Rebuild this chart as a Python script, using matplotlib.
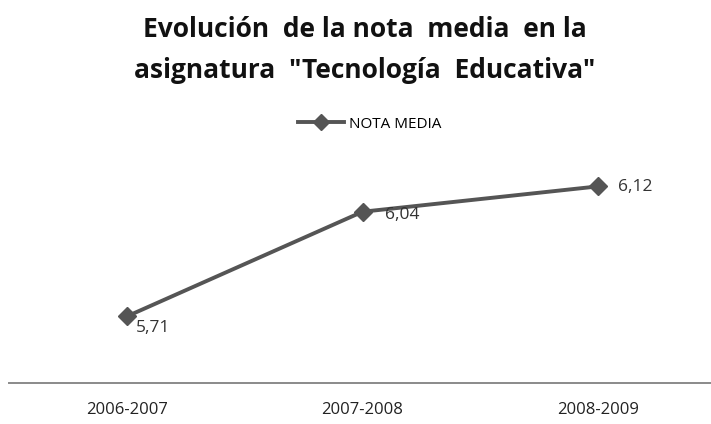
import matplotlib
matplotlib.use("Agg")
import matplotlib.pyplot as plt
from matplotlib.lines import Line2D

years = ["2006-2007", "2007-2008", "2008-2009"]
nota_media = [5.71, 6.04, 6.12]
labels = ["5,71", "6,04", "6,12"]

plt.rcParams['font.family'] = ['Open Sans', 'DejaVu Sans']

fig = plt.figure(figsize=(7.11, 4.24), dpi=100)
ax = fig.add_axes([9 / 711, 1 - 383 / 424, 707 / 711, (383 - 161) / 424])

x = list(range(len(years)))
ax.plot(x, nota_media, color="#555555", lw=2.8, marker="D", ms=9.5,
        markerfacecolor="#555555", markeredgecolor="#555555", zorder=3)

# data labels sit to the right of each point
offsets = [(6.5, -8), (16, -2.5), (14, -0.5)]
for xi, yi, lab, off in zip(x, nota_media, labels, offsets):
    ax.annotate(lab, (xi, yi), xytext=off, textcoords="offset points",
                ha="left", va="center", fontsize=12.5, color="#333333")

ax.set_xlim(-0.5, 2.5)
ax.set_ylim(5.5, 6.2)
ax.set_xticks(x)
ax.set_xticklabels(years, fontsize=12, color="#222222")
ax.tick_params(axis="x", length=0, pad=14)
ax.set_yticks([])
for side in ["top", "right", "left"]:
    ax.spines[side].set_visible(False)
ax.spines["bottom"].set_color("#8a8a8a")
ax.spines["bottom"].set_linewidth(1.4)

fig.text(0.513, 1 - 50 / 424, 'Evolución  de la nota  media  en la\nasignatura  "Tecnología  Educativa"',
         ha="center", va="center", fontsize=19, fontweight="bold",
         color="#111111", linespacing=1.68)

handle = Line2D([], [], color="#555555", lw=2.8, marker="D", ms=8)
fig.legend([handle], ["NOTA MEDIA"], loc="center", bbox_to_anchor=(0.52, 1 - 124 / 424),
           frameon=False, fontsize=11, handlelength=3.0, handletextpad=0.3)

fig.savefig("out.png", dpi=100, facecolor="white")
